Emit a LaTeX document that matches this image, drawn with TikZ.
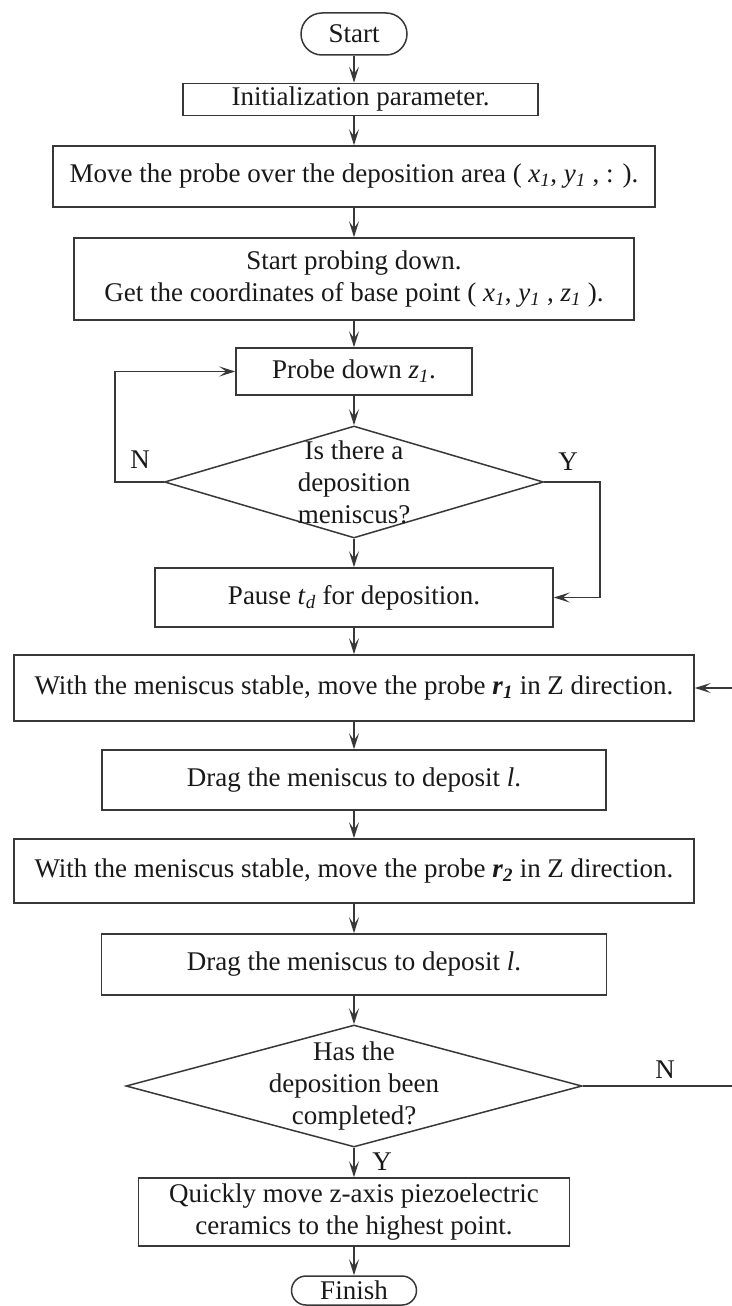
\documentclass[tikz,border=0pt]{standalone}
\usepackage{fontspec}
\setmainfont{Liberation Serif}
\usetikzlibrary{shapes.geometric,shapes.misc,arrows.meta}
\newcommand\lidx[1]{\textsubscript{#1}}
\begin{document}
\begin{tikzpicture}[x=1pt,y=-1pt,
  every node/.style={font=\fontsize{27}{32}\selectfont, text=black!90},
  box/.style={draw=black!78, line width=1.5pt, rectangle, inner sep=0pt, align=center},
  pill/.style={draw=black!78, line width=1.5pt, rounded rectangle, inner sep=0pt},
  dec/.style={draw=black!78, line width=1.5pt, diamond, inner sep=0pt},
  arr/.style={draw=black!78, line width=1.5pt, -{Stealth[length=16pt,width=10pt,inset=7pt]}},
  lbl/.style={inner sep=0pt, align=center}
]
\useasboundingbox[fill=white] (0,0) rectangle (731,1306);

\node[pill, minimum width=106pt, minimum height=42pt] (start) at (354,34) {Start};
\node[box, minimum width=355pt, minimum height=32pt] (init) at (360.5,99.5) {Initialization parameter.};
\node[box, minimum width=602pt, minimum height=61pt] (move) at (354,176.5)
  {Move the probe over the deposition area ( \textit{x}\lidx{\textit{1}}, \textit{y}\lidx{\textit{1}} , : ).};
\node[box, minimum width=560pt, minimum height=82pt] (probing) at (354,279)
  {Start probing down.\\Get the coordinates of base point ( \textit{x}\lidx{\textit{1}}, \textit{y}\lidx{\textit{1}} , \textit{z}\lidx{\textit{1}} ).};
\node[box, minimum width=236pt, minimum height=47pt] (probe) at (354,371.5)
  {Probe down \textit{z}\lidx{\textit{1}}.};
\node[dec, minimum width=379pt, minimum height=112pt] (d1) at (354,482) {};
\node[lbl] (d1t) at (d1.center) {Is there a\\deposition\\meniscus?};
\node[box, minimum width=398pt, minimum height=59pt] (pause) at (354,597.5)
  {Pause \textit{t}\lidx{\textit{d}} for deposition.};
\node[box, minimum width=680pt, minimum height=66pt] (r1) at (354,688)
  {With the meniscus stable, move the probe \textbf{\textit{r}}\lidx{\textbf{\textit{1}}} in Z direction.};
\node[box, minimum width=504pt, minimum height=60pt] (drag1) at (354,780)
  {Drag the meniscus to deposit \textit{l}.};
\node[box, minimum width=680pt, minimum height=64pt] (r2) at (354,871)
  {With the meniscus stable, move the probe \textbf{\textit{r}}\lidx{\textbf{\textit{2}}} in Z direction.};
\node[box, minimum width=505pt, minimum height=61pt] (drag2) at (354,964.5)
  {Drag the meniscus to deposit \textit{l}.};
\node[dec, minimum width=456pt, minimum height=122pt] (d2) at (354,1086) {};
\node[lbl] (d2t) at (d2.center) {Has the\\deposition been\\completed?};
\node[box, minimum width=431pt, minimum height=68pt] (quick) at (354,1212)
  {Quickly move z-axis piezoelectric\\ceramics to the highest point.};
\node[pill, minimum width=125pt, minimum height=29pt] (finish) at (354,1290.5) {Finish};

\draw[arr] (start.south) -- (start.south |- init.north);
\draw[arr] (init.south -| move.north) -- (move.north);
\draw[arr] (move.south) -- (probing.north);
\draw[arr] (probing.south) -- (probe.north);
\draw[arr] (probe.south) -- (d1.north);
\draw[arr] (d1.south) -- (pause.north);
\draw[arr] (pause.south) -- (r1.north);
\draw[arr] (r1.south) -- (drag1.north);
\draw[arr] (drag1.south) -- (r2.north);
\draw[arr] (r2.south) -- (drag2.north);
\draw[arr] (drag2.south) -- (d2.north);
\draw[arr] (d2.south) -- (quick.north);
\draw[arr] (quick.south) -- (finish.north);

\draw[arr] (d1.west) -- (115,482) |- (probe.west);
\draw[arr] (d1.east) -- (600,482) |- (pause.east);
\draw[arr] (d2.east) -- (760,1086) |- (r1.east);

\node[lbl] (n1) at (140,460) {N};
\node[lbl] (y1) at (568,462) {Y};
\node[lbl] (n2) at (665,1070) {N};
\node[lbl] (y2) at (382,1162) {Y};
\end{tikzpicture}
\end{document}
